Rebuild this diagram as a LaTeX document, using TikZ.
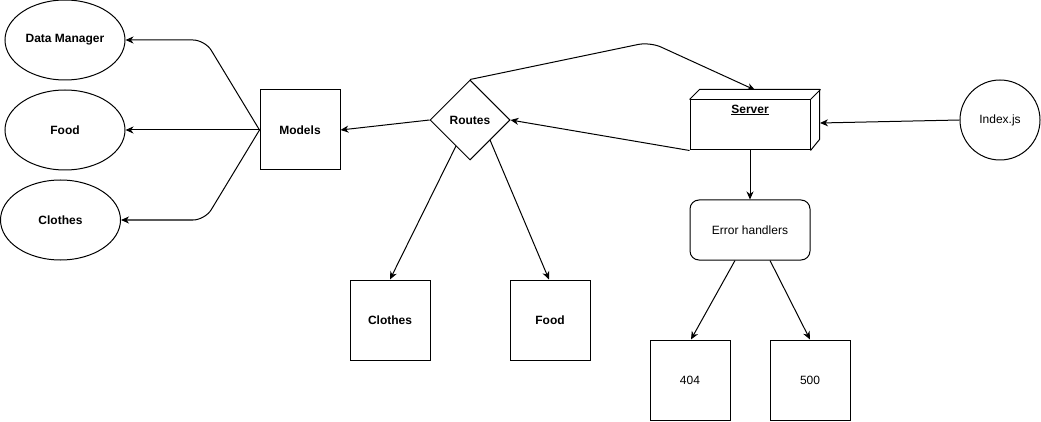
\documentclass[tikz,border=0pt]{standalone}
\usepackage{fontspec}
\setmainfont{Liberation Sans}
\usetikzlibrary{shapes.geometric,arrows.meta,calc}
\begin{document}
\begin{tikzpicture}[x=1pt,y=-1pt,
  font=\fontsize{12}{14}\selectfont,
  line width=1pt,
  >={Stealth[length=8pt,width=7pt,inset=2.5pt]},
  box/.style={draw, minimum width=80pt, minimum height=80pt, inner sep=0pt},
  ell/.style={draw, ellipse, minimum width=120pt, minimum height=80pt, inner sep=0pt},
  conn/.style={->, rounded corners=12pt}]
\useasboundingbox (0,0) rectangle (1041,422);

% left ellipses
\node[ell] (dm) at (65,40) {\textbf{Data Manager}};
\node[ell] (foodE) at (65,130) {\textbf{Food}};
\node[ell] (clothesE) at (60.5,220) {\textbf{Clothes}};

% models
\node[box] (models) at (300,130) {\textbf{Models}};

% routes
\node[draw, diamond, minimum width=80pt, minimum height=80pt, inner sep=0pt] (routes) at (470,120) {\textbf{Routes}};

% bottom middle boxes
\node[box] (clothesB) at (390,320) {\textbf{Clothes}};
\node[box] (foodB) at (550,320) {\textbf{Food}};

% server 3D box
\node[draw, minimum width=120pt, minimum height=50pt, inner sep=0pt] (server) at (750,125) {};
\draw (server.north west) -- ++(10,-10) -- ++(120,0) -- ++(0,50) -- (server.south east);
\draw (server.north east) -- ++(10,-10);
\node (serverlbl) at (750,110) {\underline{\textbf{Server}}};
\coordinate (servertop) at (755,90);
\coordinate (serverright) at (820,123);

% index
\node[draw, circle, minimum size=80pt, inner sep=0pt] (index) at (1000,120) {Index.js};

% error handlers
\node[draw, rounded corners=9pt, minimum width=120pt, minimum height=60pt, inner sep=0pt] (err) at (750,230) {Error handlers};
\node[box] (e404) at (690,380) {404};
\node[box] (e500) at (810,380) {500};

% connectors
\draw[conn] (models.west) -- (205,40) -- (dm.east);
\draw[->] (models.west) -- (foodE.east);
\draw[conn] (models.west) -- (205,220) -- (clothesE.east);
\draw[->] (routes.west) -- (models.east);
\draw[conn] (routes.north) -- (650,42) -- (servertop);
\draw[->] (server.south west) -- (routes.east);
\draw[->] (index.west) -- (serverright);
\draw[->] (server.south) -- (err.north);
\draw[->] ($(err.south)+(-15,0)$) -- ($(e404.north)+(1,0)$);
\draw[->] ($(err.south)+(20,0)$) -- (e500.north);
\draw[->] ($(routes.center)+(-14,26)$) -- (clothesB.north);
\draw[->] ($(routes.center)+(20,20)$) -- ($(foodB.north)+(-1,0)$);
\end{tikzpicture}
\end{document}
